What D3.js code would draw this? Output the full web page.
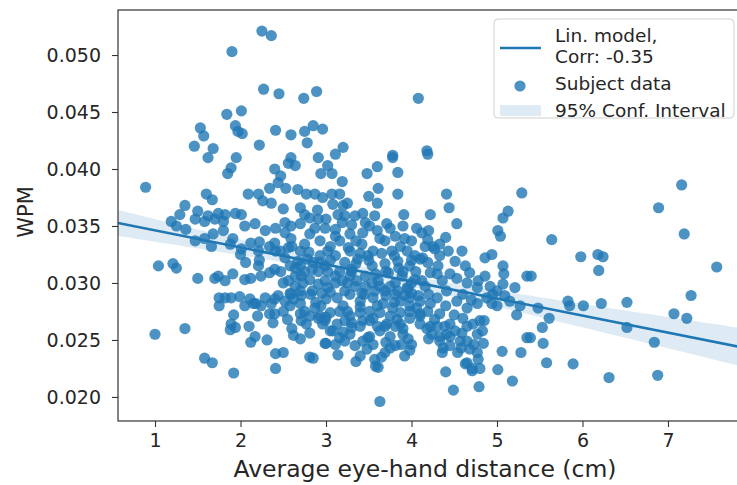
<!DOCTYPE html>
<html>
<head>
<meta charset="utf-8">
<script src="https://cdn.jsdelivr.net/npm/d3@7/dist/d3.min.js"></script>
<style>
  body { margin: 0; background: #fff; }
  svg { display: block; }
  text { font-family: "DejaVu Sans", "Liberation Sans", sans-serif; fill: #262626; }
</style>
</head>
<body>
<svg id="chart" width="737" height="485"></svg>
<script>
// Axis ticks and labels
const xTicks = [1, 2, 3, 4, 5, 6, 7];
const yTicks = [0.020, 0.025, 0.030, 0.035, 0.040, 0.045, 0.050];
const xDomain = [0.567, 7.819];
const yDomain = [0.01789, 0.05395];
const xLabel = "Average eye-hand distance (cm)";
const yLabel = "WPM";
const legendModel = ["Lin. model,", "Corr: -0.35"];
const legendPoints = "Subject data";
const legendBand = "95% Conf. Interval";

// One entry per subject: [average eye-hand distance (cm), words per minute]
const subjects = [
  [2.25,.0521],[2.36,.0517],[1.90,.0503],[2.27,.0470],[2.45,.0466],[2.74,.0462],[2.89,.0468],
  [1.84,.0448],[2.01,.0451],[1.53,.0436],[1.57,.0429],[1.94,.0438],[1.97,.0433],[2.02,.0431],
  [2.41,.0434],[2.59,.0430],[2.75,.0433],[2.85,.0438],[2.96,.0435],[2.78,.0423],[1.46,.0420],
  [1.68,.0418],[2.22,.0421],[4.08,.0462],[3.20,.0419],[3.11,.0413],[3.78,.0412],[4.18,.0416],

  [1.62,.0410],[1.85,.0396],[1.89,.0401],[1.95,.0410],[1.60,.0378],[1.67,.0373],[2.09,.0378],
  [2.21,.0378],[2.34,.0383],[2.44,.0388],[2.53,.0383],[2.56,.0405],[2.64,.0403],[2.59,.0410],
  [2.40,.0400],[2.47,.0394],[2.94,.0396],[3.02,.0403],[2.67,.0382],[2.77,.0378],[2.87,.0378],
  [2.96,.0375],[0.89,.0384],[2.91,.0410],

  [2.26,.0372],[2.36,.0370],[1.35,.0368],[1.50,.0363],[1.62,.0359],[1.74,.0361],[1.82,.0360],
  [1.94,.0361],[2.01,.0360],[1.29,.0360],[1.19,.0354],[1.25,.0350],[1.36,.0347],[1.47,.0356],
  [1.58,.0354],[1.70,.0356],[1.80,.0354],[2.05,.0350],[2.17,.0352],[2.29,.0346],[2.41,.0348],
  [2.52,.0353],[2.59,.0350],[1.47,.0337],[1.58,.0339],[1.66,.0332],[1.68,.0343],[1.80,.0346],
  [1.91,.0339],[2.01,.0330],[2.12,.0335],[2.21,.0328],[2.34,.0332],[2.41,.0328],[2.40,.0335],
  [2.47,.0328],[2.56,.0331],[2.52,.0322],[2.59,.0339],[2.70,.0328],[2.75,.0334],[2.81,.0343],
  [2.87,.0348],[2.91,.0356],[2.99,.0348],[2.81,.0357],[2.75,.0360],[2.70,.0352],

  [1.04,.0315],[1.21,.0317],[1.25,.0313],[1.50,.0304],[1.70,.0304],[1.74,.0306],[1.82,.0302],
  [1.91,.0308],[2.05,.0303],[2.12,.0304],[2.24,.0306],[2.34,.0309],[2.47,.0310],[2.64,.0313],
  [2.71,.0306],[2.06,.0318],[2.21,.0315],[2.56,.0302],[2.64,.0297],[2.73,.0300],[2.81,.0303],
  [2.91,.0299],[2.99,.0302],[2.58,.0291],[2.70,.0293],[2.84,.0293],[2.95,.0291],[3.02,.0296],
  [2.91,.0310],[2.99,.0315],[2.85,.0318],[2.78,.0321],[2.93,.0324],[3.02,.0328],

  [1.00,.0255],[1.35,.0260],[1.58,.0234],[1.67,.0230],[1.92,.0221],[1.88,.0259],[1.94,.0261],
  [2.12,.0248],[2.17,.0253],[2.31,.0250],[2.41,.0238],[2.50,.0239],[2.41,.0225],[2.70,.0251],
  [2.81,.0235],[2.85,.0234],[2.99,.0247],[1.75,.0287],[1.75,.0280],[1.89,.0287],[1.99,.0288],
  [1.92,.0272],[2.05,.0280],[2.15,.0282],[2.24,.0280],[2.36,.0282],[2.34,.0273],[2.38,.0265],
  [2.40,.0273],[2.44,.0289],[2.59,.0290],[2.71,.0289],[2.82,.0290],[2.70,.0273],[2.71,.0267],
  [2.77,.0264],[2.81,.0256],[2.94,.0280],[2.96,.0264],[3.00,.0247],[1.89,.0264],[1.82,.0287],
  [2.11,.0286],[2.18,.0282],[2.29,.0287],[2.40,.0286],[2.70,.0282],[2.75,.0275],[2.87,.0278],
  [2.91,.0269],[3.00,.0286],

  [3.63,.0196],[3.14,.0237],[3.35,.0231],[3.61,.0226],[4.40,.0222],[4.49,.0206],[4.79,.0209],
  [5.01,.0224],[5.18,.0214],[5.06,.0240],[5.28,.0239],[5.35,.0252],[5.23,.0272],[4.63,.0229],
  [4.71,.0225],[4.80,.0225],[3.98,.0241],[3.48,.0242],[4.36,.0239],[4.37,.0243],[4.77,.0239],
  [4.78,.0233],[4.73,.0246],[4.65,.0249],[4.84,.0247],[4.59,.0256],[4.65,.0262],[4.80,.0267],
  [4.85,.0267],[4.94,.0282],[4.95,.0290],[4.45,.0264],[4.41,.0255],[4.33,.0249],[4.24,.0255],
  [4.18,.0260],[4.10,.0264],[3.96,.0251],[4.00,.0246],[3.90,.0255],[3.87,.0264],[3.43,.0249],
  [3.49,.0252],[3.28,.0255],[3.30,.0261],[3.11,.0246],[3.08,.0258],[3.25,.0275],
  [3.13,.0287],[3.28,.0290],[3.40,.0284],[3.55,.0287],[3.67,.0282],[3.78,.0278],[3.87,.0284],
  [3.98,.0287],[4.06,.0278],[4.22,.0282],[4.30,.0287],[4.53,.0284],[4.65,.0278],[4.77,.0282],
  [4.88,.0287],[5.00,.0280],[3.43,.0267],[3.55,.0269],[3.71,.0264],[3.83,.0268],[3.98,.0269],
  [4.10,.0273],[4.33,.0273],[4.60,.0269],[4.72,.0264],[4.83,.0258],[4.77,.0255],[3.13,.0264],
  [3.22,.0267],[4.65,.0230],[4.71,.0223],

  [3.78,.0410],[4.19,.0413],[3.60,.0402],[3.48,.0396],[3.84,.0397],[3.19,.0389],[3.07,.0396],
  [3.61,.0383],[3.50,.0376],[3.60,.0370],[3.84,.0378],[4.41,.0378],[4.44,.0366],[4.53,.0352],
  [4.22,.0360],[3.91,.0360],[5.29,.0379],[5.13,.0363],[5.07,.0357],[5.01,.0346],[5.04,.0341],
  [4.59,.0328],[4.86,.0322],[4.94,.0325],[5.07,.0315],[5.08,.0308],[5.35,.0306],[5.21,.0296],
  [5.07,.0299],[4.06,.0348],[4.12,.0344],[4.25,.0332],[4.27,.0330],[4.13,.0322],[4.10,.0321],
  [3.95,.0328],[3.71,.0352],[3.75,.0348],[3.51,.0350],[3.63,.0339],[3.77,.0328],[3.84,.0319],
  [3.98,.0315],[3.69,.0317],[3.43,.0361],[3.34,.0359],[3.20,.0368],[3.08,.0369],[3.19,.0353],
  [3.28,.0343],[3.43,.0344],[3.14,.0360],[3.11,.0347],[3.26,.0331],[3.42,.0334],[3.55,.0328],
  [4.45,.0308],[4.53,.0304],[4.65,.0300],[4.77,.0296],[3.07,.0378],[3.25,.0370],[3.16,.0378],

  [3.11,.0324],[3.22,.0318],[3.16,.0310],[3.30,.0312],[3.37,.0321],[3.46,.0306],[3.54,.0315],
  [3.61,.0302],[3.73,.0309],[3.81,.0300],[3.89,.0306],[3.96,.0295],[4.04,.0303],[4.16,.0297],
  [4.22,.0309],[4.31,.0315],[4.36,.0302],[4.41,.0293],[3.34,.0297],[3.22,.0293],[3.11,.0300],
  [3.42,.0291],[3.57,.0293],[3.69,.0293],[3.81,.0290],[4.08,.0289],[4.19,.0318],[4.33,.0324],
  [4.00,.0300],[3.49,.0324],

  [2.52,.0344],[2.60,.0332],[2.67,.0319],[2.75,.0310],[2.84,.0312],[2.93,.0318],[3.02,.0310],
  [3.11,.0306],[3.19,.0302],[3.28,.0306],[3.36,.0302],[3.46,.0297],[3.54,.0300],[3.63,.0297],
  [3.75,.0297],[3.84,.0293],[3.92,.0289],[3.98,.0280],[4.10,.0284],[4.19,.0275],[4.27,.0268],
  [4.39,.0262],[4.51,.0258],[4.57,.0249],[4.68,.0242],[4.54,.0239],[4.45,.0245],[4.33,.0253],
  [4.22,.0262],[4.10,.0271],[3.98,.0275],[3.87,.0274],[3.75,.0271],[3.63,.0274],[3.51,.0275],
  [3.40,.0274],[3.28,.0271],[3.16,.0275],[3.05,.0274],[2.93,.0271],[2.81,.0271],[2.58,.0280],
  [2.52,.0284],[2.64,.0306],[2.58,.0315],[2.70,.0315],[3.16,.0337],[3.28,.0328],[3.35,.0337],
  [3.05,.0332],[2.93,.0337],[3.11,.0341],[3.22,.0359],[3.46,.0353],[3.57,.0359],[3.69,.0337],
  [3.81,.0341],[3.87,.0332],[3.92,.0339],[4.00,.0337],[4.04,.0324],[4.16,.0332],[4.19,.0338],
  [4.33,.0334],[4.43,.0328],[4.51,.0319],[4.63,.0315],[4.68,.0309],[4.78,.0302],[4.86,.0306],
  [4.92,.0297],[5.00,.0293],[5.09,.0289],[5.15,.0284],[5.27,.0280],
  [3.22,.0249],[3.34,.0245],[3.51,.0253],[3.63,.0258],[3.75,.0253],[3.81,.0245],[3.92,.0236],
  [3.69,.0239],[3.57,.0233],[3.40,.0236],[3.16,.0252],[3.05,.0258],[2.99,.0267],[3.40,.0262],
  [3.51,.0267],[3.69,.0262],[3.81,.0262],

  [2.50,.0275],[2.60,.0260],[3.30,.0310],[3.50,.0320],[3.70,.0310],[3.90,.0310],[3.20,.0280],
  [3.40,.0279],[3.60,.0280],[3.80,.0283],[4.00,.0291],[4.20,.0290],[4.40,.0280],[4.50,.0272],
  [4.30,.0262],[4.20,.0251],[3.90,.0260],[3.60,.0262],[3.30,.0265],[3.00,.0270],[2.88,.0283],
  [2.62,.0286],[2.50,.0300],[2.40,.0312],[2.22,.0320],[2.00,.0325],[1.88,.0334],[2.22,.0336],
  [2.50,.0365],[2.70,.0366],[2.90,.0364],[3.00,.0356],[3.30,.0351],[3.60,.0346],[3.90,.0350],
  [4.20,.0346],[4.40,.0340],[3.40,.0326],[3.80,.0324],[4.00,.0320],[4.12,.0302],[4.30,.0308],
  [4.60,.0290],[4.70,.0285],[4.45,.0253],[4.58,.0243],[3.55,.0246],[3.88,.0246],[3.20,.0257],
  [3.70,.0248],[2.62,.0254],[2.55,.0268],[2.20,.0271],[2.10,.0262],[3.65,.0235],[3.75,.0243],
  [3.58,.0227],[3.45,.0290],[3.70,.0289],[3.95,.0296],[3.05,.0292],[3.25,.0300],[3.58,.0308],
  [3.85,.0313],[4.05,.0310],[3.35,.0317],[3.05,.0320],[2.80,.0327],[3.65,.0326],

  [7.16,.0386],[6.89,.0366],[7.19,.0343],[5.64,.0338],[5.98,.0323],[6.18,.0325],[6.24,.0323],
  [6.19,.0311],[7.57,.0314],[5.40,.0306],[7.27,.0289],[5.83,.0284],[5.85,.0280],[6.01,.0280],
  [6.22,.0282],[6.52,.0283],[5.48,.0278],[5.61,.0269],[5.53,.0261],[5.39,.0252],[5.54,.0247],
  [7.07,.0273],[7.22,.0269],[6.52,.0261],[6.84,.0248],[5.58,.0230],[5.89,.0229],[6.31,.0217],
  [6.88,.0219]
];

const svg = d3.select("#chart");
const plot = { left: 118, top: 10, right: 738, bottom: 421 };

const x = d3.scaleLinear().domain(xDomain).range([plot.left, plot.right]);
const y = d3.scaleLinear().domain(yDomain).range([plot.bottom, plot.top]);

const blue = "#1f77b4";

// Ordinary least squares fit with 95% confidence band for the mean
const n = subjects.length;
const mx = d3.mean(subjects, d => d[0]);
const my = d3.mean(subjects, d => d[1]);
const sxx = d3.sum(subjects, d => (d[0] - mx) ** 2);
const sxy = d3.sum(subjects, d => (d[0] - mx) * (d[1] - my));
const slope = sxy / sxx;
const intercept = my - slope * mx;
const sse = d3.sum(subjects, d => (d[1] - (intercept + slope * d[0])) ** 2);
const se = Math.sqrt(sse / (n - 2));
const tCrit = 1.965;
const fit = v => intercept + slope * v;
const halfWidth = v => tCrit * se * Math.sqrt(1 / n + (v - mx) ** 2 / sxx);
const bandXs = d3.range(0, 121).map(i => xDomain[0] + (xDomain[1] - xDomain[0]) * i / 120);

svg.append("defs").append("clipPath").attr("id", "plot-clip")
  .append("rect").attr("x", plot.left).attr("y", plot.top)
  .attr("width", plot.right - plot.left).attr("height", plot.bottom - plot.top);

const g = svg.append("g").attr("clip-path", "url(#plot-clip)");

// Subject points
g.selectAll("circle.subject").data(subjects).join("circle")
  .attr("class", "subject")
  .attr("cx", d => x(d[0]))
  .attr("cy", d => y(d[1]))
  .attr("r", 5.6)
  .attr("fill", blue)
  .attr("fill-opacity", 0.8);

// Confidence band
g.append("path")
  .datum(bandXs)
  .attr("d", d3.area()
    .x(v => x(v))
    .y0(v => y(fit(v) - halfWidth(v)))
    .y1(v => y(fit(v) + halfWidth(v))))
  .attr("fill", blue)
  .attr("fill-opacity", 0.15);

// Regression line
g.append("path")
  .datum(xDomain)
  .attr("d", d3.line().x(v => x(v)).y(v => y(fit(v))))
  .attr("stroke", blue)
  .attr("stroke-width", 2.6)
  .attr("fill", "none");

// Axes
const xAxis = svg.append("g")
  .attr("transform", `translate(0,${plot.bottom})`)
  .call(d3.axisBottom(x).tickValues(xTicks).tickFormat(d3.format("d")).tickSize(6).tickPadding(7));
const yAxis = svg.append("g")
  .attr("transform", `translate(${plot.left},0)`)
  .call(d3.axisLeft(y).tickValues(yTicks).tickFormat(d3.format(".3f")).tickSize(6).tickPadding(11));

[xAxis, yAxis].forEach(a => {
  a.select(".domain").remove();
  a.selectAll(".tick line").attr("stroke", "#333").attr("stroke-width", 1.1);
  a.selectAll(".tick text").attr("font-size", 19).attr("fill", "#262626")
    .attr("font-family", "DejaVu Sans, sans-serif");
});

// Frame
svg.append("rect")
  .attr("x", plot.left).attr("y", plot.top)
  .attr("width", plot.right - plot.left).attr("height", plot.bottom - plot.top)
  .attr("fill", "none").attr("stroke", "#333").attr("stroke-width", 1.2);

// Axis titles
svg.append("text")
  .attr("x", 425).attr("y", 477)
  .attr("text-anchor", "middle")
  .attr("font-size", 23.5)
  .text(xLabel);
svg.append("text")
  .attr("transform", "translate(33,212) rotate(-90)")
  .attr("text-anchor", "middle")
  .attr("font-size", 21)
  .text(yLabel);

// Legend
const lg = svg.append("g");
lg.append("rect")
  .attr("x", 494).attr("y", 19).attr("width", 240).attr("height", 99)
  .attr("rx", 4).attr("fill", "#fff").attr("fill-opacity", 0.85)
  .attr("stroke", "#d0d0d0").attr("stroke-width", 1);
lg.append("line")
  .attr("x1", 500).attr("x2", 541).attr("y1", 48).attr("y2", 48)
  .attr("stroke", blue).attr("stroke-width", 2.6);
lg.append("circle")
  .attr("cx", 520).attr("cy", 86).attr("r", 5.6)
  .attr("fill", blue).attr("fill-opacity", 0.8);
lg.append("rect")
  .attr("x", 500).attr("y", 105).attr("width", 41).attr("height", 11)
  .attr("fill", blue).attr("fill-opacity", 0.15);
const legendText = [[legendModel[0], 42], [legendModel[1], 63], [legendPoints, 90], [legendBand, 117]];
lg.selectAll("text.legend").data(legendText).join("text")
  .attr("class", "legend")
  .attr("x", 555).attr("y", d => d[1])
  .attr("font-size", 18.5)
  .text(d => d[0]);
</script>
</body>
</html>
